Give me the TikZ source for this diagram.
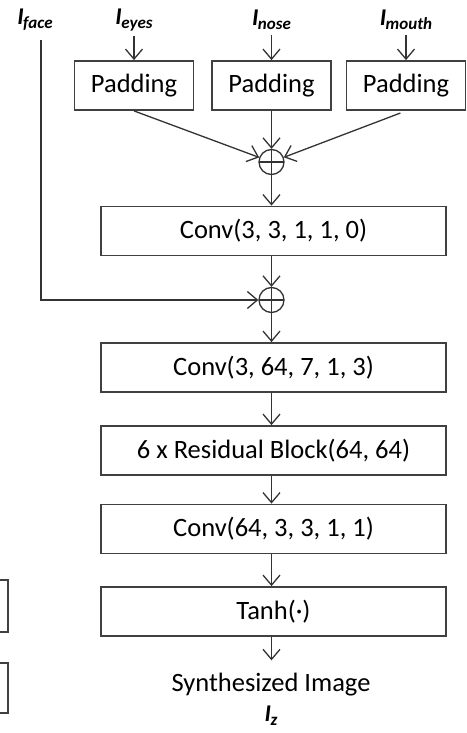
\documentclass[tikz,border=0pt]{standalone}
\usepackage{fontspec}
\setmainfont{Carlito}
\usetikzlibrary{arrows.meta}
\definecolor{ln}{HTML}{333333}
\definecolor{bx}{HTML}{404040}
\begin{document}
\begin{tikzpicture}[x=1pt,y=-1pt,
  box/.style={draw=bx, line width=1.8pt, minimum height=49pt, inner sep=0pt, font=\fontsize{26.5}{30}\selectfont},
  wide/.style={box, minimum width=345pt},
  pad/.style={box, minimum width=119pt},
  sumnode/.style={circle, draw=ln, line width=1.3pt, minimum size=25pt, inner sep=0pt,
    path picture={\draw[ln, line width=1.3pt] (path picture bounding box.north) -- (path picture bounding box.south)
      (path picture bounding box.west) -- (path picture bounding box.east);}},
  arr/.style={draw=ln, line width=1.3pt, -{Straight Barb[length=10pt,width=17pt,line width=1.3pt]}},
  lbl/.style={font=\fontsize{24}{28}\selectfont\bfseries\itshape, inner sep=0pt},
  txt/.style={font=\fontsize{26.5}{30}\selectfont, inner sep=0pt}
]
\path[use as bounding box] (0,0) rectangle (466,733);
\newcommand{\lab}[2]{I\kern-0.5pt\raisebox{-4pt}{\fontsize{17}{17}\selectfont #2}}
% labels
\node[lbl] (Iface) at (35,20) {\lab{I}{face}};
\node[lbl] (Ieyes) at (134,20) {\lab{I}{eyes}};
\node[lbl] (Inose) at (271.5,20) {\lab{I}{nose}};
\node[lbl] (Imouth) at (406,20) {\lab{I}{mouth}};
% padding boxes
\node[pad] (P1) at (134,85.5) {Padding};
\node[pad] (P2) at (271.5,85.5) {Padding};
\node[pad] (P3) at (406,85.5) {Padding};
% sums
\node[sumnode] (S1) at (271.5,162) {};
\node[sumnode] (S2) at (271.5,300) {};
% main column
\node[wide] (C1) at (273.5,231) {Conv(3, 3, 1, 1, 0)};
\node[wide] (C2) at (273.5,367.5) {Conv(3, 64, 7, 1, 3)};
\node[wide] (R) at (273.5,450.5) {6 x Residual Block(64, 64)};
\node[wide] (C3) at (273.5,529) {Conv(64, 3, 3, 1, 1)};
\node[wide] (T) at (273.5,611.5) {Tanh(\textperiodcentered)};
\node[txt] (Syn) at (271,685) {Synthesized Image};
\node[lbl] (Iz) at (271,716) {\lab{I}{z}};
% partial boxes at left edge
\node[box, minimum width=60pt, minimum height=52pt] (L1) at (-22,606) {};
\node[box, minimum width=60pt, minimum height=50pt] (L2) at (-22,688) {};
% arrows
\draw[arr, shorten <=5pt] (Ieyes.south) -- (P1.north);
\draw[arr, shorten <=5pt] (Inose.south) -- (P2.north);
\draw[arr, shorten <=5pt] (Imouth.south) -- (P3.north);
\draw[arr] (P1.south) -- (S1);
\draw[arr] (P2.south) -- (S1);
\draw[arr, shorten <=6pt] (P3.south) -- (S1);
\draw[arr] (S1) -- (C1.north -| S1);
\draw[arr] (C1.south -| S2) -- (S2);
\draw[arr] ([xshift=6pt,yshift=-9pt]Iface.south) |- (S2);
\draw[arr] (S2) -- (C2.north -| S2);
\draw[arr] (C2.south -| S2) -- (R.north -| S2);
\draw[arr] (R.south -| S2) -- (C3.north -| S2);
\draw[arr] (C3.south -| S2) -- (T.north -| S2);
\draw[arr] (T.south -| S2) -- ([yshift=13pt]Syn.north -| S2);
\end{tikzpicture}
\end{document}
